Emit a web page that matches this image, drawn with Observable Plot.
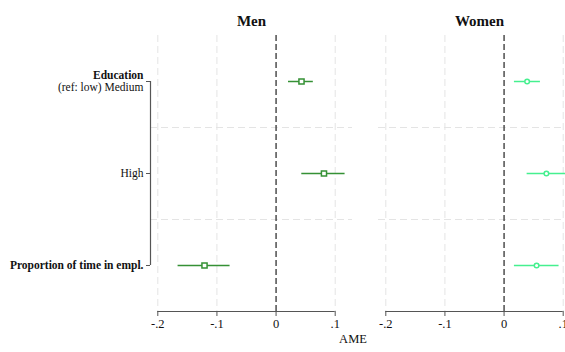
<!DOCTYPE html>
<html>
<head>
<meta charset="utf-8">
<script src="https://cdn.jsdelivr.net/npm/d3@7"></script>
<script src="https://cdn.jsdelivr.net/npm/@observablehq/plot@0.6"></script>
<style>
  html, body { margin: 0; padding: 0; background: white; }
  #wrap { position: relative; width: 565px; height: 352px; overflow: hidden; background: white; font-family: "Liberation Serif", "Times New Roman", serif; }
  #men, #women { position: absolute; top: 0; }
  #men { left: 0; }
  #women { left: 352px; }
  #ame { position: absolute; left: 333px; top: 332px; width: 40px; text-align: center; font-size: 12.5px; line-height: 14px; color: #111; }
</style>
</head>
<body>
<div id="wrap">
  <div id="men"></div>
  <div id="women"></div>
  <div id="ame">AME</div>
</div>
<script>
// ---- data ----
const rows = [0, 1, 2]; // Medium, High, Proportion of time in empl.
const groupLabel = "Education";
const rowLabels = ["(ref: low) Medium", "High", "Proportion of time in empl."];
const panelTitles = ["Men", "Women"];
const xTicks = [-0.2, -0.1, 0, 0.1];
const xTickLabels = ["-.2", "-.1", "0", ".1"];

const menEst = [0.043, 0.081, -0.121];
const menLo  = [0.021, 0.0435, -0.1657];
const menHi  = [0.063, 0.1167, -0.0778];

const womenEst = [0.039, 0.0716, 0.055];
const womenLo  = [0.0175, 0.039, 0.0175];
const womenHi  = [0.0615, 0.105, 0.093];

const menColor = "#359135";
const womenColor = "#45f08f";

function makePanel({title, est, lo, hi, color, symbol, r, width, marginLeft, insetLeft, insetRight, titleDx, showY}) {
  const data = rows.map(i => ({i, est: est[i], lo: lo[i], hi: hi[i]}));
  const marks = [
    Plot.ruleY([0.5, 1.5], {stroke: "#e4e4e4", strokeDasharray: "7,4", strokeWidth: 1}),
    Plot.ruleX([-0.2, -0.1, 0.1], {stroke: "#e4e4e4", strokeDasharray: "7,4", strokeWidth: 1}),
    Plot.ruleX([0], {stroke: "#333", strokeDasharray: "6,3", strokeWidth: 1.3}),
    Plot.ruleY([2.5], {x1: -0.2, x2: 0.1, stroke: "#555", strokeWidth: 1.2}),
    Plot.axisX({ticks: xTicks, tickFormat: d => xTickLabels[xTicks.indexOf(d)], tickSize: 5, tickPadding: 3, fontSize: 12.5, label: null, stroke: "#555", fill: "#111"}),
    Plot.ruleY(data, {y: "i", x1: "lo", x2: "hi", stroke: color, strokeWidth: 1.5}),
    Plot.dot(data, {x: "est", y: "i", symbol, r, stroke: color, fill: "white", strokeWidth: 1.5}),
    Plot.text([title], {frameAnchor: "top", dy: -20, dx: titleDx, fontSize: 15, fontWeight: "bold", fill: "#111"})
  ];
  if (showY) {
    const common = {y: d => d, frameAnchor: "left", dx: -7, textAnchor: "end", fontSize: 11.5, fill: "#111"};
    marks.push(
      Plot.axisY({ticks: rows, tickSize: 4, tickFormat: () => "", stroke: "#555", label: null}),
      Plot.ruleX([-0.2], {y1: 0, y2: 2, dx: -insetLeft, stroke: "#555", strokeWidth: 1.2}),
      Plot.text([0], {...common, text: () => groupLabel, dy: -6, fontWeight: "bold"}),
      Plot.text([0], {...common, text: d => rowLabels[d], dy: 5.5}),
      Plot.text([1], {...common, text: d => rowLabels[d]}),
      Plot.text([2], {...common, text: d => rowLabels[d], fontWeight: "bold"})
    );
  }
  return Plot.plot({
    width, height: 352,
    marginLeft, marginRight: 0, marginTop: 35, marginBottom: 41,
    x: {domain: [-0.2, 0.1], insetLeft, insetRight},
    y: {domain: [2.5, -0.5], axis: null},
    style: {fontFamily: "Liberation Serif", background: "white", overflow: "visible"},
    marks
  });
}

document.getElementById("men").append(makePanel({
  title: panelTitles[0], est: menEst, lo: menLo, hi: menHi, color: menColor,
  symbol: "square", r: 2.9, width: 352, marginLeft: 150, insetLeft: 7.3, insetRight: 17.3, titleDx: 0, showY: true
}));
document.getElementById("women").append(makePanel({
  title: panelTitles[1], est: womenEst, lo: womenLo, hi: womenHi, color: womenColor,
  symbol: "circle", r: 2.3, width: 213, marginLeft: 26, insetLeft: 7.3, insetRight: 2.3, titleDx: 7.5, showY: false
}));
</script>
</body>
</html>
